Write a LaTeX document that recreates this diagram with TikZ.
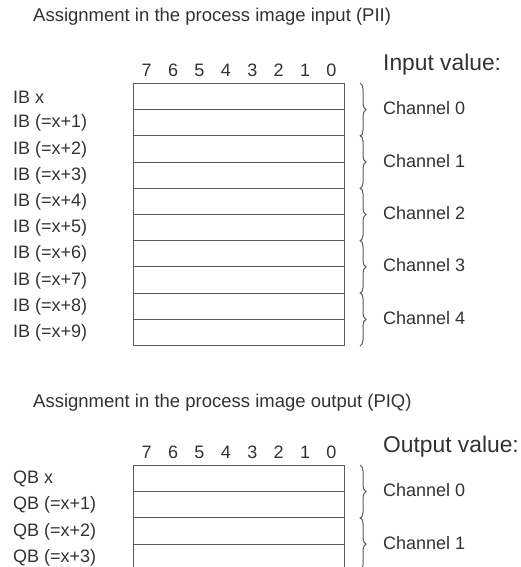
\documentclass[tikz,border=0pt]{standalone}
\usepackage{fontspec}
\setmainfont{Liberation Sans}
\usepackage{tikz}
\usetikzlibrary{decorations.pathreplacing}
\definecolor{txtgray}{RGB}{50,50,50}
\definecolor{linegray}{RGB}{90,90,90}
\tikzset{
  lbl/.style={anchor=west, font=\fontsize{18}{20}\selectfont, text=txtgray, inner sep=0pt},
  titlelbl/.style={lbl, font=\fontsize{18.5}{21}\selectfont},
  valhead/.style={anchor=west, font=\fontsize{22.8}{26}\selectfont, text=txtgray, inner sep=0pt},
  bitnum/.style={font=\fontsize{18}{20}\selectfont, text=txtgray, inner sep=0pt},
  byterow/.style={draw=linegray, line width=1pt, minimum width=211pt, minimum height=26.2pt, inner sep=0pt, anchor=north west},
  chbrace/.style={draw=linegray, line width=1pt, decorate, decoration={brace, amplitude=6pt}},
}
\begin{document}
\begin{tikzpicture}[x=1pt, y=-1pt]
    \clip (0,0) rectangle (520,567);

    % Process image input
    \node[titlelbl] (titlein) at (33,17) {Assignment in the process image input (PII)};
    \node[valhead] (valin) at (383,65) {Input value:};
    \foreach \b in {0,...,7}
        \node[bitnum] (inbit\b) at ({331.5-26.4*\b},70) {\b};
    \foreach \i/\txt in {0/IB x,1/IB (=x+1),2/IB (=x+2),3/IB (=x+3),4/IB (=x+4),
                          5/IB (=x+5),6/IB (=x+6),7/IB (=x+7),8/IB (=x+8),9/IB (=x+9)} {
        \node[byterow] (ib\i) at (133,{83+26.2*\i}) {};
        \node[lbl] (iblbl\i) at (13,{97+26.2*\i}) {\txt};
    }
    % Input channels
    \foreach \c in {0,...,4} {
        \pgfmathtruncatemacro{\ra}{2*\c}
        \pgfmathtruncatemacro{\rb}{2*\c+1}
        \coordinate (inbrtop\c) at ([xshift=15pt]ib\ra.north east);
        \coordinate (inbrbot\c) at ([xshift=15pt]ib\rb.south east);
        \draw[chbrace] (inbrtop\c) -- (inbrbot\c);
        \node[lbl] (inch\c) at ([xshift=38pt,yshift=2pt]ib\ra.south east) {Channel \c};
    }

    % Process image output
    \node[titlelbl] (titleout) at (33,403) {Assignment in the process image output (PIQ)};
    \node[valhead] (valout) at (383,447) {Output value:};
    \foreach \b in {0,...,7}
        \node[bitnum] (outbit\b) at ({331.5-26.4*\b},452) {\b};
    \foreach \i/\txt in {0/QB x,1/QB (=x+1),2/QB (=x+2),3/QB (=x+3)} {
        \node[byterow] (qb\i) at (133,{465+26.2*\i}) {};
        \node[lbl] (qblbl\i) at (13,{479+26.2*\i}) {\txt};
    }
    % Output channels
    \foreach \c in {0,1} {
        \pgfmathtruncatemacro{\ra}{2*\c}
        \pgfmathtruncatemacro{\rb}{2*\c+1}
        \coordinate (outbrtop\c) at ([xshift=15pt]qb\ra.north east);
        \coordinate (outbrbot\c) at ([xshift=15pt]qb\rb.south east);
        \draw[chbrace] (outbrtop\c) -- (outbrbot\c);
        \node[lbl] (outch\c) at ([xshift=38pt,yshift=2pt]qb\ra.south east) {Channel \c};
    }
\end{tikzpicture}
\end{document}
